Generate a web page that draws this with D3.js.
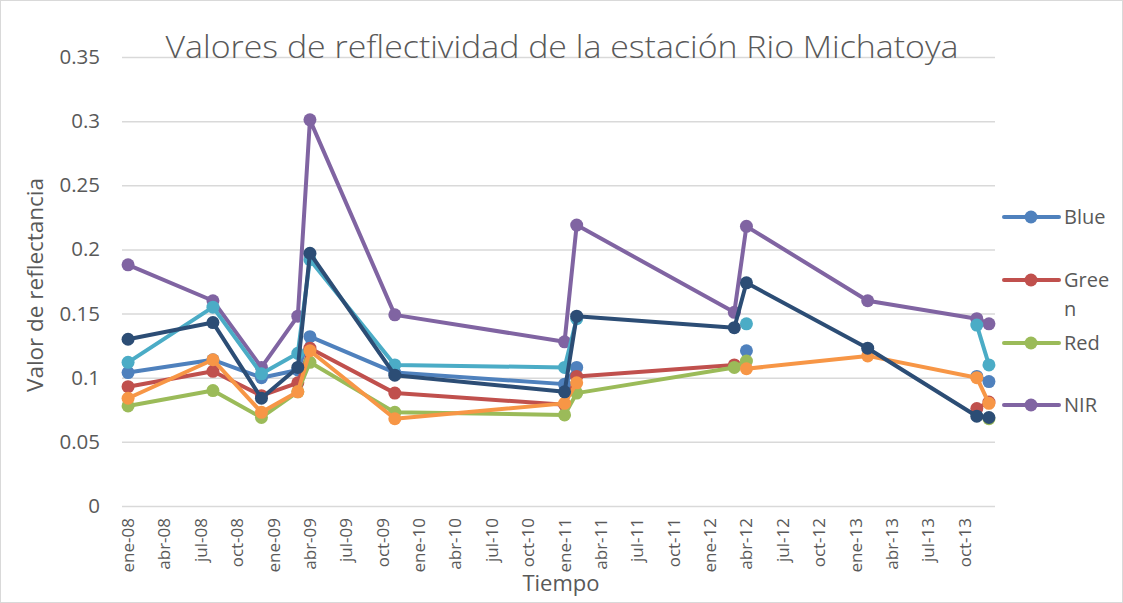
<!DOCTYPE html>
<html>
<head>
<meta charset="utf-8">
<script src="https://cdn.jsdelivr.net/npm/d3@7"></script>
<style>
  html, body { margin: 0; padding: 0; background: #fff; }
  svg { display: block; }
  text { font-family: "Open Sans", "Noto Sans", sans-serif; fill: #595959; }
</style>
</head>
<body>
<svg id="chart" width="1123" height="603"></svg>
<script>
// ---- data ----
const dates = ["2008-01","2008-08","2008-12","2009-03","2009-04","2009-11","2011-01","2011-02","2012-03","2012-04","2013-02","2013-11","2013-12"];
const blueValues   = [0.104,0.114,0.100,0.106,0.132,0.104,0.095,0.108,null,0.121,null,0.101,0.097];
const greenValues  = [0.093,0.105,0.086,0.096,0.123,0.088,0.079,0.101,0.110,null,null,0.076,0.081];
const redValues    = [0.078,0.090,0.069,0.089,0.112,0.073,0.071,0.088,0.108,0.113,null,null,0.068];
const nirValues    = [0.188,0.160,0.108,0.148,0.301,0.149,0.128,0.219,0.151,0.218,0.160,0.146,0.142];
const swir1Values  = [0.112,0.155,0.103,0.119,0.192,0.110,0.108,0.146,null,0.142,null,0.141,0.110];
const swir2Values  = [0.084,0.114,0.073,0.089,0.121,0.068,0.080,0.096,null,0.107,0.117,0.100,0.080];
const tirValues    = [0.130,0.143,0.084,0.108,0.197,0.102,0.089,0.148,0.139,0.174,0.123,0.070,0.069];

const seriesNames  = ["Blue","Green","Red","NIR","SWIR1","SWIR2","TIR"];
const seriesColors = ["#4F81BD","#C0504D","#9BBB59","#8064A2","#4BACC6","#F79646","#2C4D75"];
const legendShown  = ["Blue","Green","Red","NIR"];

const yTicks = [0,0.05,0.1,0.15,0.2,0.25,0.3,0.35];
const yTickLabels = ["0","0.05","0.1","0.15","0.2","0.25","0.3","0.35"];
const xTickMonths = ["2008-01","2008-04","2008-07","2008-10","2009-01","2009-04","2009-07","2009-10",
  "2010-01","2010-04","2010-07","2010-10","2011-01","2011-04","2011-07","2011-10",
  "2012-01","2012-04","2012-07","2012-10","2013-01","2013-04","2013-07","2013-10"];
const xTickLabels = ["ene-08","abr-08","jul-08","oct-08","ene-09","abr-09","jul-09","oct-09",
  "ene-10","abr-10","jul-10","oct-10","ene-11","abr-11","jul-11","oct-11",
  "ene-12","abr-12","jul-12","oct-12","ene-13","abr-13","jul-13","oct-13"];

const title = "Valores de reflectividad de la estación Rio Michatoya";
const yTitle = "Valor de reflectancia";
const xTitle = "Tiempo";

const allValues = [blueValues, greenValues, redValues, nirValues, swir1Values, swir2Values, tirValues];

// ---- layout ----
const svg = d3.select("#chart");
const plot = { left: 122, right: 995, top: 57, bottom: 506 };
const fmt = d3.timeFormat("%Y-%m");
const monthKeys = d3.timeMonth.range(new Date(2008,0,1), new Date(2014,0,1)).map(fmt);

const x = d3.scaleBand().domain(monthKeys).range([plot.left, plot.right]).padding(0);
const cx = k => x(k) + x.bandwidth() / 2;
const y = d3.scaleLinear().domain([0, 0.35]).range([plot.bottom, plot.top]);

// border
svg.append("rect").attr("x", 0.5).attr("y", 0.5).attr("width", 1122).attr("height", 602)
  .attr("fill", "#fff").attr("stroke", "#d9d9d9").attr("stroke-width", 1);

// gridlines + y axis
const yAxis = d3.axisLeft(y).tickValues(yTicks)
  .tickFormat((d, i) => yTickLabels[i]).tickSize(-(plot.right - plot.left)).tickPadding(22);
const gy = svg.append("g").attr("transform", `translate(${plot.left},0)`).call(yAxis);
gy.select(".domain").remove();
gy.selectAll(".tick line").attr("stroke", "#d9d9d9").attr("stroke-width", 1.5);
gy.selectAll(".tick text").style("font-size", "20.5px").attr("fill", "#595959");

// x axis labels
const xAxis = d3.axisBottom(x).tickValues(xTickMonths)
  .tickFormat(k => xTickLabels[xTickMonths.indexOf(k)]).tickSize(0);
const gx = svg.append("g").attr("transform", `translate(0,${plot.bottom})`).call(xAxis);
gx.select(".domain").remove();
gx.selectAll(".tick text")
  .style("font-size", "17px").attr("fill", "#595959")
  .attr("text-anchor", "end")
  .attr("transform", "rotate(-90)")
  .attr("x", -12).attr("y", 0).attr("dy", "0.35em");

// series
const line = d3.line()
  .defined(d => d.v !== null)
  .x(d => cx(d.k)).y(d => y(d.v));

allValues.forEach((vals, si) => {
  const pts = dates.map((k, i) => ({ k, v: vals[i] }));
  const g = svg.append("g").attr("class", "series " + seriesNames[si]);
  g.append("path").datum(pts).attr("d", line)
    .attr("fill", "none").attr("stroke", seriesColors[si])
    .attr("stroke-width", 4).attr("stroke-linejoin", "round").attr("stroke-linecap", "round");
  g.selectAll("circle").data(pts.filter(d => d.v !== null)).join("circle")
    .attr("cx", d => cx(d.k)).attr("cy", d => y(d.v)).attr("r", 6.5)
    .attr("fill", seriesColors[si]);
});

// title
svg.append("text").attr("x", 562).attr("y", 58).attr("text-anchor", "middle")
  .style("font-size", "31px").style("font-weight", 300)
  .attr("textLength", 793).attr("lengthAdjust", "spacingAndGlyphs").text(title);

// axis titles
svg.append("text").attr("transform", "translate(43,285) rotate(-90)")
  .attr("text-anchor", "middle").style("font-size", "21px")
  .attr("textLength", 214).attr("lengthAdjust", "spacingAndGlyphs").text(yTitle);
svg.append("text").attr("x", 561).attr("y", 591).attr("text-anchor", "middle")
  .style("font-size", "22px").text(xTitle);

// legend
const legendY = [217, 280, 343, 405];
legendShown.forEach((name, i) => {
  const si = seriesNames.indexOf(name);
  const g = svg.append("g").attr("transform", `translate(0,${legendY[i]})`);
  g.append("line").attr("x1", 1004).attr("x2", 1059).attr("y1", 0).attr("y2", 0)
    .attr("stroke", seriesColors[si]).attr("stroke-width", 4).attr("stroke-linecap", "round");
  g.append("circle").attr("cx", 1031).attr("cy", 0).attr("r", 6.5).attr("fill", seriesColors[si]);
  if (name === "Green") {
    g.append("text").attr("x", 1064).attr("y", 0).attr("dy", "0.35em").style("font-size", "20px").text("Gree");
    g.append("text").attr("x", 1064).attr("y", 29).attr("dy", "0.35em").style("font-size", "20px").text("n");
  } else {
    g.append("text").attr("x", 1064).attr("y", 0).attr("dy", "0.35em").style("font-size", "20px").text(name);
  }
});
</script>
</body>
</html>
